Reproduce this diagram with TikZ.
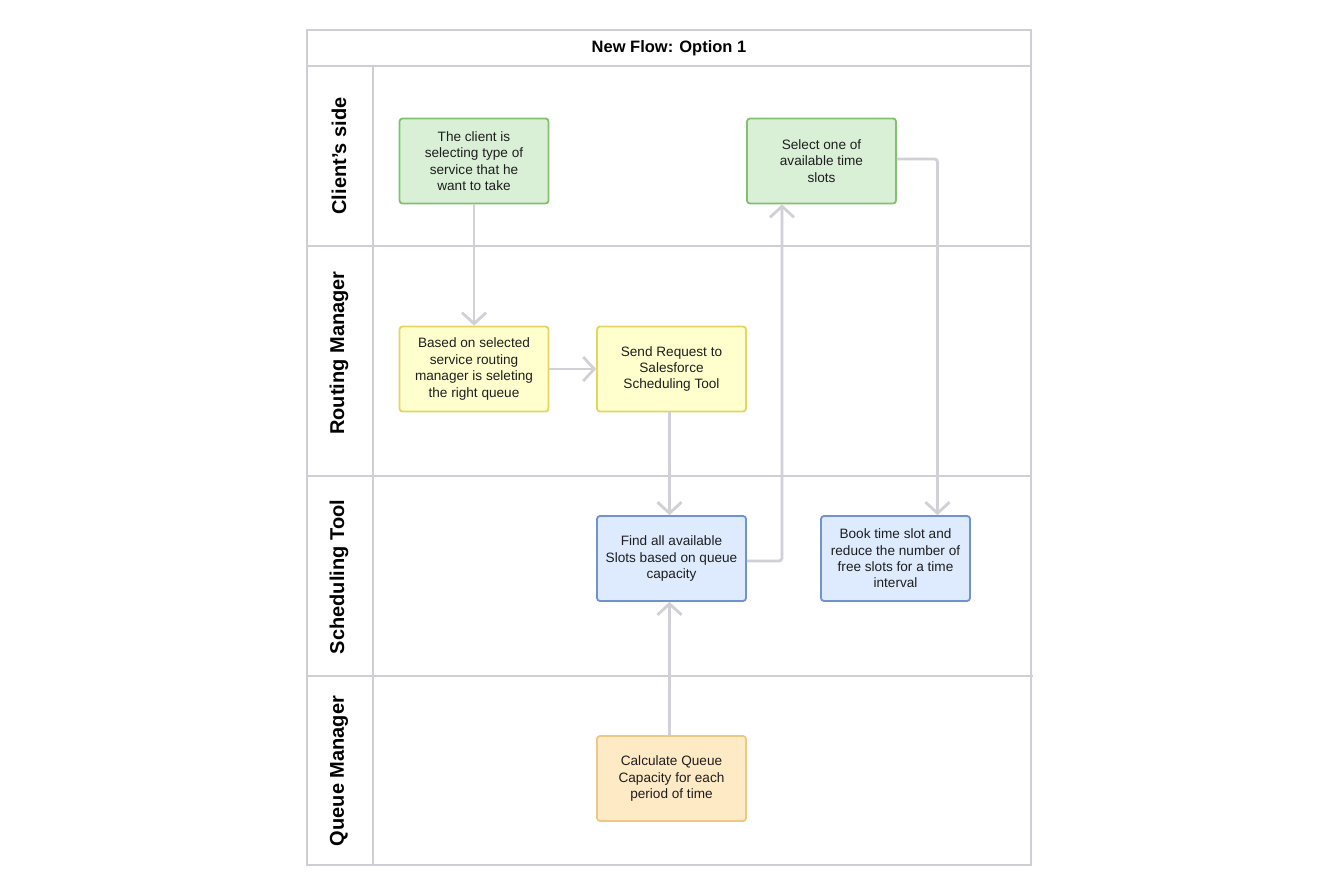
\documentclass[tikz,border=0pt]{standalone}
\usepackage{fontspec}
\setmainfont{Liberation Sans}
\usetikzlibrary{arrows.meta}
\definecolor{frame}{RGB}{206,206,213}
\definecolor{gfill}{RGB}{217,240,215}
\definecolor{gdraw}{RGB}{130,192,112}
\definecolor{yfill}{RGB}{255,255,206}
\definecolor{ydraw}{RGB}{226,214,96}
\definecolor{bfill}{RGB}{222,235,255}
\definecolor{bdraw}{RGB}{112,146,206}
\definecolor{ofill}{RGB}{255,234,198}
\definecolor{odraw}{RGB}{236,200,132}
\definecolor{conn}{RGB}{208,208,214}
\definecolor{txt}{RGB}{30,30,30}
\begin{document}
\begin{tikzpicture}[x=1pt,y=-1pt,
  lane/.style={draw=frame,line width=2.5pt},
  stepbox/.style={rounded corners=3pt,line width=1.8pt,minimum width=149pt,minimum height=85pt,
    align=center,font=\fontsize{13.6}{16.4}\selectfont,text=txt,inner sep=1pt},
  gbox/.style={stepbox,draw=gdraw,fill=gfill},
  ybox/.style={stepbox,draw=ydraw,fill=yfill},
  bbox/.style={stepbox,draw=bdraw,fill=bfill},
  obox/.style={stepbox,draw=odraw,fill=ofill},
  lanelabel/.style={rotate=90,font=\bfseries\fontsize{20}{22}\selectfont,text=black},
  flow/.style={draw=conn,line width=2.8pt,rounded corners=3pt,
    -{Straight Barb[length=11pt,width=24pt,line width=2.8pt]}}
]
\useasboundingbox (0,0) rectangle (1340,896);
% frame
\draw[lane] (307,30) rectangle (1031,865);
\draw[lane] (307,66) -- (1031,66);
\draw[lane] (373,66) -- (373,865);
\draw[lane] (307,246) -- (1031,246);
\draw[lane] (307,476) -- (1031,476);
\draw[lane] (307,676) -- (1033,676);
\node[font=\bfseries\fontsize{16.5}{18}\selectfont] (title) at (669,48) {New Flow: Option 1};
\node[lanelabel] (l1) at (339,156) {Client’s side};
\node[lanelabel] (l2) at (339,353) {Routing Manager};
\node[lanelabel] (l3) at (339,577) {Scheduling Tool};
\node[lanelabel] (l4) at (339,771) {Queue Manager};
% boxes
\node[gbox] (b1) at (474,161) {The client is\\selecting type of\\service that he\\want to take};
\node[gbox] (b2) at (821.5,161) {Select one of\\available time\\slots};
\node[ybox] (b3) at (474,369) {Based on selected\\service routing\\manager is seleting\\the right queue};
\node[ybox] (b4) at (671.5,369) {Send Request to\\Salesforce\\Scheduling Tool};
\node[bbox] (b5) at (671.5,558.5) {Find all available\\Slots based on queue\\capacity};
\node[bbox] (b6) at (895.5,558.5) {Book time slot and\\reduce the number of\\free slots for a time\\interval};
\node[obox] (b7) at (671.5,778.5) {Calculate Queue\\Capacity for each\\period of time};
% connectors
\draw[flow] (b1.south) -- (b3.north);
\draw[flow] (b3.east) -- (b4.west);
\draw[flow] ([xshift=-2pt]b4.south) -- ([xshift=-2pt]b5.north);
\draw[flow] ([xshift=-2pt]b7.north) -- ([xshift=-2pt]b5.south);
\draw[flow] ([yshift=-2.5pt]b5.east) -| ([xshift=-39.5pt]b2.south);
\draw[flow] ([yshift=2pt]b2.east) -| ([xshift=42pt]b6.north);
\end{tikzpicture}
\end{document}
